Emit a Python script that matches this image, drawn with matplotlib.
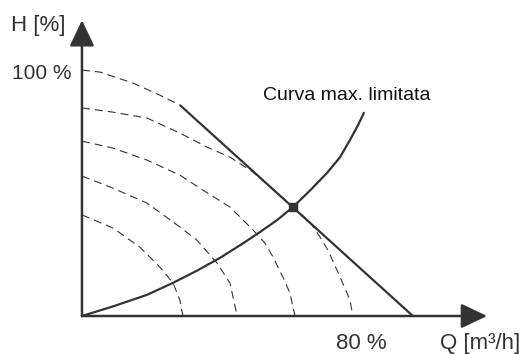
import matplotlib
matplotlib.use('Agg')
import matplotlib.pyplot as plt

# Q [%] / H [%]
curva_100_q = [0, 5.3, 15.1, 23.0, 28.9]
curva_100_h = [100, 99.2, 94.7, 89.8, 85.8]

curva_2_q = [0, 9.15, 19.2, 28.9, 36.9, 43.7, 50.5, 61.4, 67.3, 70.3, 72.6, 76.2, 79.1, 80.0]
curva_2_h = [84.6, 82.9, 80.5, 74.4, 68.7, 64.6, 58.5, 45.5, 38.2, 32.1, 26.8, 15.9, 6.5, 0]

curva_3_q = [0, 9.15, 19.2, 28.9, 35.7, 43.7, 50.5, 54.0, 56.4, 59.3, 61.4, 62.9]
curva_3_h = [71.1, 68.3, 63.4, 57.3, 51.2, 44.3, 35.0, 29.7, 24.0, 15.9, 9.3, 0]

curva_4_q = [0, 9.15, 19.2, 28.9, 33.9, 39.9, 43.7, 45.8]
curva_4_h = [56.9, 52.0, 45.9, 36.2, 30.9, 21.5, 13.4, 0]

curva_5_q = [0, 9.15, 17.1, 23.0, 26.9, 28.9, 29.8]
curva_5_h = [41.1, 35.8, 28.0, 19.9, 13.4, 6.5, 0]

# curva impianto (max limitata)
impianto_q = [0, 9.15, 19.2, 26.9, 33.9, 40.7, 47.5, 52.5, 57.6, 62.3, 67.3, 72.3, 76.2, 79.1, 81.5, 83.2]
impianto_h = [0, 3.9, 8.6, 13.5, 18.4, 23.6, 29.5, 34.1, 39.0, 44.3, 51.0, 58.1, 64.6, 71.5, 77.6, 82.5]

# limite (retta)
limite_q = [28.9, 97.7]
limite_h = [85.8, 0]

punto_q = [62.3]
punto_h = [44.3]

colore = '#333333'
plt.rcParams['font.family'] = ['Liberation Sans', 'DejaVu Sans']

fig = plt.figure(figsize=(5.25, 3.54), dpi=100)
ax = fig.add_axes([0, 0, 1, 1])
ax.set_xlim(-24.2, 130.8)
ax.set_ylim(-15.45, 128.5)
ax.axis('off')

for q, h in [(curva_100_q, curva_100_h), (curva_2_q, curva_2_h), (curva_3_q, curva_3_h),
             (curva_4_q, curva_4_h), (curva_5_q, curva_5_h)]:
    ax.plot(q, h, color=colore, lw=0.8, dashes=(7.2, 4.5))

ax.plot(limite_q, limite_h, color=colore, lw=1.6, solid_capstyle='butt')
ax.plot(impianto_q, impianto_h, color=colore, lw=1.6, solid_joinstyle='round')
ax.plot(punto_q, punto_h, 's', color=colore, ms=6)

# assi con frecce
freccia = dict(arrowstyle='-|>,head_length=0.8,head_width=0.38', color=colore, lw=1.8,
               shrinkA=0, shrinkB=0, mutation_scale=20)
ax.annotate('', xy=(0, 120.3), xytext=(0, 0), arrowprops=freccia)
ax.annotate('', xy=(119.6, 0), xytext=(0, 0), arrowprops=freccia)

ax.text(-5.0, 118.3, 'H [%]', ha='right', va='center', fontsize=16, color=colore)
ax.text(-2.95, 98.8, '100 %', ha='right', va='center', fontsize=15, color=colore)
ax.text(82.5, -11.0, '80 %', ha='center', va='center', fontsize=16, color=colore)
ax.text(117.5, -11.0, 'Q [m³/h]', ha='center', va='center', fontsize=16, color=colore)
ax.text(53.4, 89.8, 'Curva max. limitata', ha='left', va='center', fontsize=14, color='#111111')

fig.savefig('out.png', dpi=100)
